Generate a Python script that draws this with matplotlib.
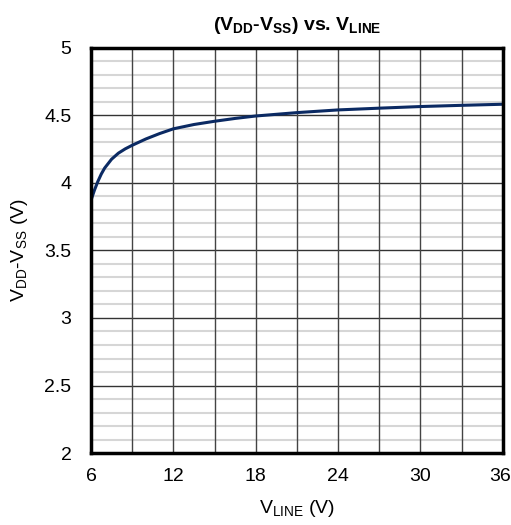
import matplotlib
matplotlib.use('Agg')
import matplotlib.pyplot as plt
import matplotlib.transforms as mtransforms
import numpy as np

# V_LINE (V) vs V_DD-V_SS (V)
v_line = [6, 6.25, 6.5, 6.75, 7, 7.5, 8, 8.5, 9, 10, 11, 12, 13.5, 15, 16.5,
          18, 21, 24, 27, 30, 33, 36]
v_ddss = [3.87, 3.945, 4.01, 4.065, 4.11, 4.175, 4.22, 4.252, 4.278, 4.325,
          4.365, 4.40, 4.432, 4.456, 4.477, 4.495, 4.52, 4.54, 4.553, 4.565,
          4.574, 4.582]
x_ticks = [6, 12, 18, 24, 30, 36]
y_ticks = [2, 2.5, 3, 3.5, 4, 4.5, 5]
y_tick_labels = ['2', '2.5', '3', '3.5', '4', '4.5', '5']

plt.rcParams['font.family'] = ['Liberation Sans', 'DejaVu Sans']
plt.rcParams['mathtext.default'] = 'regular'

fig = plt.figure(figsize=(5.11, 5.25), dpi=100)
ax = fig.add_axes([0.178, 0.137, 0.806, 0.772])

# grid
for yv in np.arange(2.1, 5.0, 0.1):
    if abs(yv * 2 - round(yv * 2)) < 1e-6:
        ax.axhline(yv, color='#333333', lw=1.0, zorder=1)
    else:
        ax.axhline(yv, color='#d6d6d6', lw=1.5, zorder=0.5)
for xv in range(9, 36, 3):
    ax.axvline(xv, color='#444444', lw=1.0, zorder=1)

ax.plot(v_line, v_ddss, color='#0b2a63', lw=2.2, zorder=3)

ax.set_xlim(6, 36)
ax.set_ylim(2, 5)
ax.set_xticks(x_ticks)
ax.set_yticks(y_ticks)
ax.set_yticklabels(y_tick_labels)
ax.tick_params(length=0, labelsize=14, pad=11)
ax.tick_params(axis='y', pad=14)
for s in ax.spines.values():
    s.set_linewidth(2.5)
    s.set_color('black')
    s.set_zorder(4)

# nudge the last x label in so it is not cut at the figure edge
last = ax.get_xticklabels()[-1]
last.set_transform(last.get_transform() +
                   mtransforms.ScaledTranslation(-3 / 100, 0, fig.dpi_scale_trans))

ax.set_title('(V$_{DD}$-V$_{SS}$) vs. V$_{LINE}$', fontsize=14, fontweight='bold', pad=13)
ax.set_xlabel('V$_{LINE}$ (V)', fontsize=14, labelpad=9)
ax.set_ylabel('V$_{DD}$-V$_{SS}$ (V)', fontsize=14, labelpad=10)

fig.savefig('out.png', dpi=100)
